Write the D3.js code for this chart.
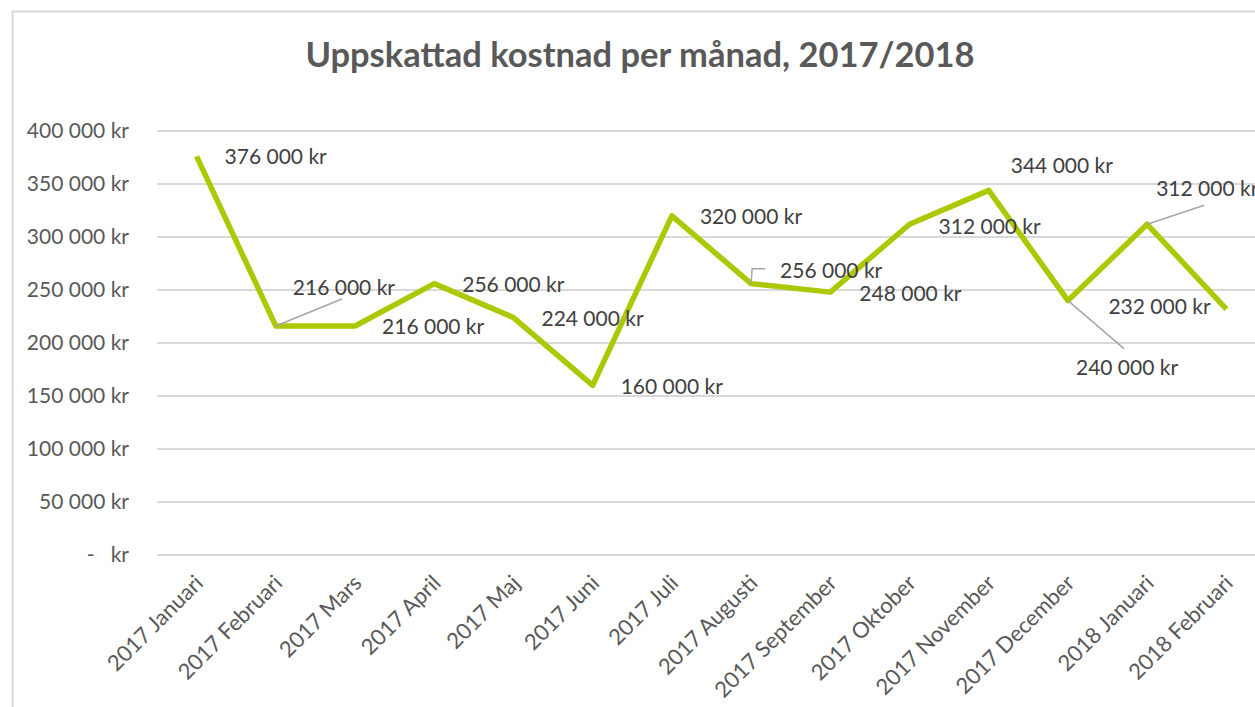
<!DOCTYPE html>
<html>
<head>
<meta charset="utf-8">
<script src="https://cdn.jsdelivr.net/npm/d3@7"></script>
<style>
  body { margin: 0; background: #fff; }
  svg { display: block; }
  text { font-family: Lato, "Open Sans", sans-serif; }
</style>
</head>
<body>
<svg width="1255" height="707"></svg>
<script>
// data
var months = ["2017 Januari","2017 Februari","2017 Mars","2017 April","2017 Maj","2017 Juni",
  "2017 Juli","2017 Augusti","2017 September","2017 Oktober","2017 November","2017 December",
  "2018 Januari","2018 Februari"];
var cost = [376000,216000,216000,256000,224000,160000,320000,256000,248000,312000,344000,240000,312000,232000];
var yTicks = [0,50000,100000,150000,200000,250000,300000,350000,400000];

// where each data label sits relative to its point (dx = left edge, dy = middle)
var labelOffset = [[28,0],[17,-38],[27,1],[28,1],[28,1],[28,1],[28,1],[29,-13],[29,2],[29,2],[22,-25],[8,67],[9,-36],[-118,-2]];
// leader lines (relative to point), null = none
var leaders = [null,[[0,0],[66,-27]],null,null,null,null,null,[[0,0],[1,-15],[14,-15]],null,null,null,[[0,0],[56,48]],[[0,0],[57,-19]],null];

var svg = d3.select("svg");

// frame
svg.append("path")
  .attr("d","M12.5,707 V11.5 H1255")
  .attr("fill","none").attr("stroke","#d9d9d9").attr("stroke-width",2);

svg.append("text")
  .attr("x",640).attr("y",67)
  .attr("text-anchor","middle")
  .attr("font-size",34.5).attr("font-weight","bold")
  .attr("fill","#595959")
  .text("Uppskattad kostnad per månad, 2017/2018");

var x = d3.scalePoint().domain(months).range([157,1266]).padding(0.5);
var y = d3.scaleLinear().domain([0,400000]).range([555,131]);

var fmt = function(v){
  if (v == 0) return "-   kr";
  return d3.format(",")(v).replace(/,/g," ") + " kr";
};

// gridlines
svg.append("g").selectAll("line").data(yTicks).enter().append("line")
  .attr("x1",157).attr("x2",1266)
  .attr("y1",function(d){return y(d);}).attr("y2",function(d){return y(d);})
  .attr("stroke","#d9d9d9").attr("stroke-width",2);

// y axis labels
var yAxis = d3.axisLeft(y).tickValues(yTicks).tickSize(0).tickPadding(0).tickFormat(fmt);
var ya = svg.append("g").attr("transform","translate(129,0)").call(yAxis);
ya.select(".domain").remove();
ya.selectAll("text").attr("font-size",21).attr("fill","#595959")
  .style("font-family","Lato, 'Open Sans', sans-serif").attr("xml:space","preserve");

// x axis labels
var xAxis = d3.axisBottom(x).tickSize(0).tickPadding(0);
var xa = svg.append("g").attr("transform","translate(0,555)").call(xAxis);
xa.select(".domain").remove();
xa.selectAll("text")
  .attr("font-size",22).attr("fill","#595959")
  .style("font-family","Lato, 'Open Sans', sans-serif")
  .attr("text-anchor","end")
  .attr("dy","0.35em").attr("y",0)
  .attr("transform","translate(2,24) rotate(-45)");

// line
var line = d3.line().x(function(d,i){return x(months[i]);}).y(function(d){return y(d);});
svg.append("path").datum(cost)
  .attr("d",line)
  .attr("fill","none").attr("stroke","#abc800").attr("stroke-width",5.5)
  .attr("stroke-linejoin","round");

// leader lines
leaders.forEach(function(l,i){
  if (!l) return;
  var px = x(months[i]), py = y(cost[i]);
  svg.append("polyline")
    .attr("points", l.map(function(p){return (px+p[0])+","+(py+p[1]);}).join(" "))
    .attr("fill","none").attr("stroke","#a6a6a6").attr("stroke-width",1.5);
});

// data labels
svg.append("g").selectAll("text").data(cost).enter().append("text")
  .attr("x",function(d,i){return x(months[i]) + labelOffset[i][0];})
  .attr("y",function(d,i){return y(d) + labelOffset[i][1];})
  .attr("dy","0.35em")
  .attr("font-size",21).attr("fill","#404040")
  .text(fmt);
</script>
</body>
</html>
